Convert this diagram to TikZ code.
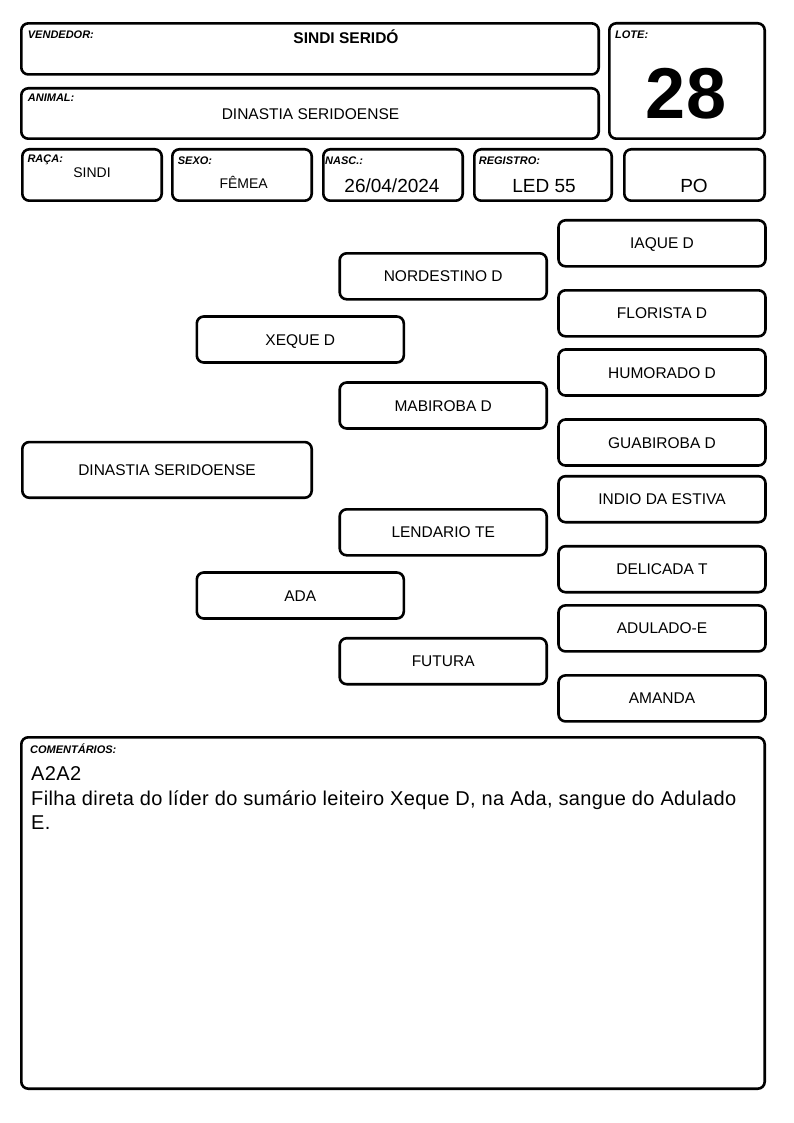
\documentclass[tikz,border=0pt]{standalone}
\usepackage{fontspec}
\setmainfont{Liberation Sans}
\usetikzlibrary{calc}

\begin{document}
\begin{tikzpicture}[x={(1pt,0)},y={(0,-1pt)},
    box/.style={draw,line width=2.6pt,rounded corners=7pt,inner sep=0pt},
    fieldlabel/.style={anchor=base west,inner sep=0pt,font=\fontsize{11}{12}\selectfont\bfseries\itshape},
    fieldvalue/.style={anchor=base,inner sep=0pt},
    animalbox/.style={box,minimum width=207pt,minimum height=46pt,text height=11pt,text depth=0pt,font=\fontsize{15.5}{18}\selectfont}]

    % page size
    \useasboundingbox (0,0) rectangle (794,1123);

    % header boxes
    \node[box,minimum width=577.4pt,minimum height=51.1pt] (vendedor) at (310,48.9) {};
    \node[box,minimum width=577.4pt,minimum height=50.4pt] (animal) at (310,113.5) {};
    \node[box,minimum width=155.4pt,minimum height=115.4pt] (lote) at (687,81) {};
    \node[box,minimum width=139.4pt,minimum height=51.4pt] (raca) at (92,175) {};
    \node[box,minimum width=139.4pt,minimum height=51.4pt] (sexo) at (242,175) {};
    \node[box,minimum width=139.4pt,minimum height=51.4pt] (nasc) at (393,175) {};
    \node[box,minimum width=137.4pt,minimum height=51.4pt] (registro) at (543,175) {};
    \node[box,minimum width=140.4pt,minimum height=51.4pt] (po) at (694.5,175) {};

    % field labels
    \node[fieldlabel] (lblvendedor) at (27.7,39) {VENDEDOR:};
    \node[fieldlabel] (lblanimal) at (27.7,102) {ANIMAL:};
    \node[fieldlabel] (lbllote) at (615,38.3) {LOTE:};
    \node[fieldlabel] (lblraca) at (27.3,162.7) {RAÇA:};
    \node[fieldlabel] (lblsexo) at (177.7,165) {SEXO:};
    \node[fieldlabel] (lblnasc) at (325,165) {NASC.:};
    \node[fieldlabel] (lblregistro) at (478.7,165) {REGISTRO:};

    % field values
    \node[fieldvalue,font=\fontsize{15.5}{18}\selectfont\bfseries] (valvendedor) at (346,43.3) {SINDI SERIDÓ};
    \node[fieldvalue,font=\fontsize{15.5}{18}\selectfont] (valanimal) at (310.5,120) {DINASTIA SERIDOENSE};
    \node[fieldvalue,font=\fontsize{72}{80}\selectfont\bfseries] (vallote) at (686,118.3) {28};
    \node[fieldvalue,font=\fontsize{14}{16}\selectfont] (valraca) at (92,177.7) {SINDI};
    \node[fieldvalue,font=\fontsize{14}{16}\selectfont] (valsexo) at (243.7,189) {FÊMEA};
    \node[fieldvalue,font=\fontsize{19}{22}\selectfont] (valnasc) at (392,192.7) {26/04/2024};
    \node[fieldvalue,font=\fontsize{19}{22}\selectfont] (valregistro) at (544,192.7) {LED 55};
    \node[fieldvalue,font=\fontsize{19}{22}\selectfont] (valpo) at (694,192.7) {PO};

    % pedigree
    \node[animalbox,minimum width=289.4pt,minimum height=55.7pt] (p) at (167,469.9) {DINASTIA SERIDOENSE};

    \node[animalbox] (s) at (300.3,339.5) {XEQUE D};
    \node[animalbox] (d) at (300.3,595.5) {ADA};

    \node[animalbox] (ss) at (443.2,276.3) {NORDESTINO D};
    \node[animalbox] (sd) at (443.2,405.5) {MABIROBA D};
    \node[animalbox] (ds) at (443.2,532.3) {LENDARIO TE};
    \node[animalbox] (dd) at (443.2,661.2) {FUTURA};

    \node[animalbox] (sss) at (662,243.3) {IAQUE D};
    \node[animalbox] (ssd) at (662,313.3) {FLORISTA D};
    \node[animalbox] (sds) at (662,372.5) {HUMORADO D};
    \node[animalbox] (sdd) at (662,442.5) {GUABIROBA D};
    \node[animalbox] (dss) at (662,499.2) {INDIO DA ESTIVA};
    \node[animalbox] (dsd) at (662,569.2) {DELICADA T};
    \node[animalbox] (dds) at (662,628.4) {ADULADO-E};
    \node[animalbox] (ddd) at (662,698.4) {AMANDA};

    % comments
    \node[box,minimum width=743.4pt,minimum height=351.4pt] (comentarios) at (393,913) {};
    \node[fieldlabel] (lblcomentarios) at (30,753) {COMENTÁRIOS:};
    \node[anchor=north west,inner sep=0pt,align=left,font=\fontsize{20}{24.5}\selectfont\addfontfeature{LetterSpace=1.9}] (valcomentarios) at (31,766.7)
        {A2A2\\Filha direta do líder do sumário leiteiro Xeque D, na Ada, sangue do Adulado\\E.};

\end{tikzpicture}
\end{document}
